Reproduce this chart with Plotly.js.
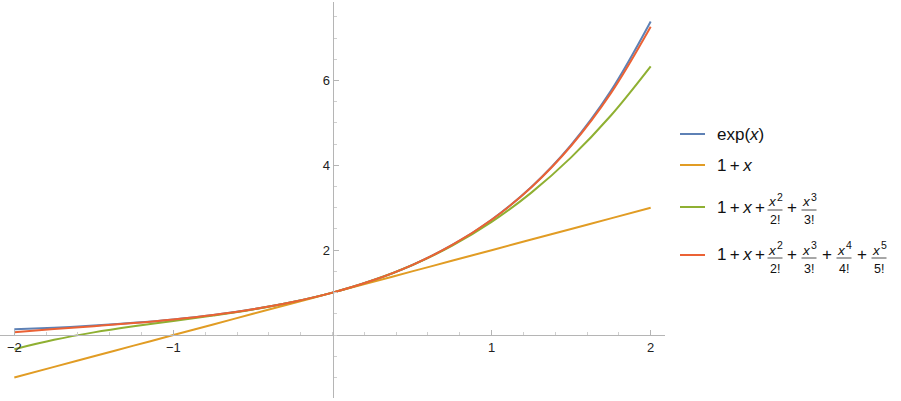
<!DOCTYPE html>
<html>
<head>
<meta charset="utf-8">
<script src="https://cdn.plot.ly/plotly-3.0.1.min.js"></script>
<style>html,body{margin:0;padding:0;background:#fff;}#chart{width:901px;height:401px;}</style>
</head>
<body>
<div id="chart"></div>
<script>
// Sample points
const xVals = [-2, -1.75, -1.5, -1.25, -1, -0.75, -0.5, -0.25, 0, 0.25, 0.5, 0.75, 1, 1.25, 1.5, 1.75, 2];
const expVals = [0.135, 0.174, 0.223, 0.287, 0.368, 0.472, 0.607, 0.779, 1, 1.284, 1.649, 2.117, 2.718, 3.490, 4.482, 5.755, 7.389];
const linVals = [-1, -0.75, -0.5, -0.25, 0, 0.25, 0.5, 0.75, 1, 1.25, 1.5, 1.75, 2, 2.25, 2.5, 2.75, 3];
const cubicVals = [-0.333, -0.112, 0.063, 0.206, 0.333, 0.461, 0.604, 0.779, 1, 1.284, 1.646, 2.102, 2.667, 3.357, 4.188, 5.174, 6.333];
const quinticVals = [0.067, 0.142, 0.210, 0.282, 0.367, 0.472, 0.607, 0.779, 1, 1.284, 1.649, 2.117, 2.717, 3.484, 4.462, 5.702, 7.267];
const seriesNames = ["exp(x)", "1 + x", "1 + x + x²/2! + x³/3!", "1 + x + x²/2! + x³/3! + x⁴/4! + x⁵/5!"];
const seriesColors = ["#5E81B5", "#E19C24", "#8FB032", "#EB6235"];
const xTickVals = [-2, -1, 1, 2];
const yTickVals = [2, 4, 6];

const W = 901, H = 401;
const M = {l: 0, r: 236, t: 2, b: 3};
const pw = W - M.l - M.r, ph = H - M.t - M.b;
const xRange = [-2.09, 2.09];
const yRange = [-1.484, 7.85];
function px(x) { return (x - M.l) / pw; }
function py(y) { return (H - M.b - y) / ph; }

const allY = [expVals, linVals, cubicVals, quinticVals];
const traces = allY.map((ys, i) => ({
  x: xVals, y: ys, type: 'scatter', mode: 'lines', name: seriesNames[i],
  line: {color: seriesColors[i], width: 2, shape: 'spline', smoothing: 1},
  hoverinfo: 'skip'
}));

const axisGrey = '#b5b5b5';
const FAM = 'Liberation Sans, Arial, sans-serif';
const tickFont = {family: FAM, size: 13, color: '#222'};
const legFont = {family: FAM, size: 17, color: '#111'};
const numFont = {family: FAM, size: 13.5, color: '#111'};
const expFont = {family: FAM, size: 10.5, color: '#111'};
const denFont = {family: FAM, size: 12.5, color: '#111'};
const TS = '\u2009';

const annotations = [];
const shapes = [];
function ann(text, x, y, xa, ya, font) {
  annotations.push({text: text, x: px(x), y: py(y), xref: 'paper', yref: 'paper', showarrow: false,
    xanchor: xa, yanchor: ya, font: font, borderpad: 0});
}
function sample(y, color) {
  shapes.push({type: 'line', xref: 'paper', yref: 'paper', x0: px(680), x1: px(705), y0: py(y), y1: py(y),
    line: {color: color, width: 2}});
}
function frac(c, bar, p) {
  shapes.push({type: 'line', xref: 'paper', yref: 'paper', x0: px(c - 7.5), x1: px(c + 7.5), y0: py(bar), y1: py(bar),
    line: {color: '#222', width: 0.8}});
  ann('<i>x</i>', c - 2.5, bar - 8, 'center', 'middle', numFont);
  ann(String(p), c + 4.5, bar - 13.5, 'center', 'middle', expFont);
  ann(p + '!', c, bar + 10.5, 'center', 'middle', denFont);
}

// legend rows
sample(134, seriesColors[0]);
ann('exp(<i>x</i>)', 716, 134, 'left', 'middle', legFont);
sample(165, seriesColors[1]);
ann('1' + TS + '+' + TS + '<i>x</i>', 716, 165, 'left', 'middle', legFont);

sample(207, seriesColors[2]);
ann('1' + TS + '+' + TS + '<i>x</i>' + TS + '+', 716, 207, 'left', 'middle', legFont);
frac(775, 210, 2);
ann('+', 792, 207, 'center', 'middle', legFont);
frac(809, 210, 3);

sample(255, seriesColors[3]);
ann('1' + TS + '+' + TS + '<i>x</i>' + TS + '+', 716, 255, 'left', 'middle', legFont);
frac(775, 258, 2);
ann('+', 792, 255, 'center', 'middle', legFont);
frac(809, 258, 3);
ann('+', 826.5, 255, 'center', 'middle', legFont);
frac(844, 258, 4);
ann('+', 861.5, 255, 'center', 'middle', legFont);
frac(879, 258, 5);

const layout = {
  width: W, height: H,
  margin: M,
  paper_bgcolor: '#fff', plot_bgcolor: '#fff',
  showlegend: false,
  xaxis: {
    range: xRange, anchor: 'free',
    position: (0 - yRange[0]) / (yRange[1] - yRange[0]),
    showline: true, linecolor: axisGrey, linewidth: 1,
    zeroline: false, showgrid: false,
    tickmode: 'array', tickvals: xTickVals,
    ticks: 'inside', ticklen: 5, tickwidth: 1, tickcolor: axisGrey,
    tickfont: tickFont,
    minor: {tickmode: 'linear', tick0: 0, dtick: 0.2, ticks: 'inside', ticklen: 3, tickcolor: '#cfcfcf', showgrid: false}
  },
  yaxis: {
    range: yRange, anchor: 'free',
    position: (0 - xRange[0]) / (xRange[1] - xRange[0]),
    showline: true, linecolor: axisGrey, linewidth: 1,
    zeroline: false, showgrid: false,
    tickmode: 'array', tickvals: yTickVals,
    ticks: 'inside', ticklen: 5, tickwidth: 1, tickcolor: axisGrey,
    tickfont: tickFont,
    minor: {tickmode: 'linear', tick0: 0, dtick: 0.5, ticks: 'inside', ticklen: 3, tickcolor: '#cfcfcf', showgrid: false}
  },
  annotations: annotations,
  shapes: shapes
};

Plotly.newPlot('chart', traces, layout, {displayModeBar: false, staticPlot: true});
</script>
</body>
</html>
